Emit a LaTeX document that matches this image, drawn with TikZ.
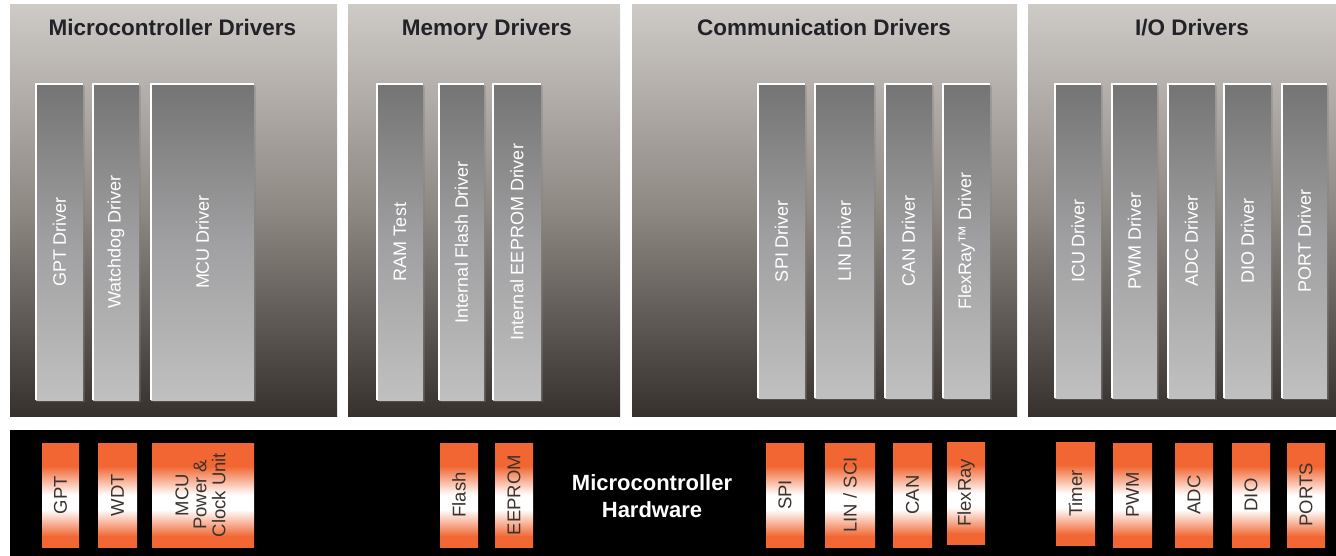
\documentclass[tikz,border=0pt]{standalone}
\usepackage{fontspec}
\setmainfont{Liberation Sans}
\usepackage{graphicx}
\usetikzlibrary{shadows}

\definecolor{orng}{RGB}{241,102,50}
\definecolor{pantop}{RGB}{206,202,198}
\definecolor{panmid}{RGB}{142,136,131}
\definecolor{panbot}{RGB}{54,49,45}
\definecolor{bartop}{RGB}{116,116,116}
\definecolor{barmid}{RGB}{160,160,162}
\definecolor{barbot}{RGB}{192,192,192}
\definecolor{titlecol}{RGB}{34,34,40}
\definecolor{hwtext}{RGB}{58,50,46}

% orange hardware block: orange at both ends, white band a little below the middle
\pgfdeclareverticalshading{orngbar}{100bp}{color(0bp)=(orng); color(25bp)=(orng);
  color(30bp)=(orng); color(43bp)=(white); color(50bp)=(white);
  color(64bp)=(orng); color(75bp)=(orng); color(100bp)=(orng)}

% a block given by its left/right/top/bottom edges, with upright-rotated text
\newcommand\rackbox[7]{%
  \node[#1, minimum width={(#4-#3)*1pt}, minimum height={(#6-#5)*1pt}]
    (#2) at ({(#3+#4)/2},{(#5+#6)/2}) {\rotatebox{90}{#7}};}

\tikzset{
  panel/.style={inner sep=0pt, outer sep=0pt, draw=none,
    top color=pantop, bottom color=panbot, middle color=panmid},
  paneltitle/.style={inner sep=0pt, anchor=base, text=titlecol,
    font=\fontsize{22.5}{26}\selectfont\bfseries},
  drvbar/.style={inner sep=0pt, outer sep=0pt, draw=none,
    top color=bartop, bottom color=barbot, middle color=barmid,
    drop shadow={shadow xshift=2pt, shadow yshift=-2pt, opacity=.35},
    text=white, font=\fontsize{18}{20}\selectfont},
  barhl/.style={white, line width=1.4pt, line cap=butt},
  hwbox/.style={inner sep=0pt, outer sep=0pt, draw=none, shading=orngbar,
    text=hwtext, font=\fontsize{18.5}{18}\selectfont},
  hwtitle/.style={inner sep=0pt, text=white, align=center,
    font=\fontsize{22}{27}\selectfont\bfseries},
}

\begin{document}
\begin{tikzpicture}[x=1pt, y=-1pt]
  \useasboundingbox (0,0) rectangle (1336,556);
  \fill[white] (0,0) rectangle (1336,556);

  % ---- driver panels ----
  \rackbox{panel}{mcdrv}{10}{337}{5}{416}{}
  \rackbox{panel}{memdrv}{348}{620}{5}{416}{}
  \rackbox{panel}{comdrv}{632}{1017}{5}{416}{}
  \rackbox{panel}{iodrv}{1028}{1336}{5}{416}{}

  \node[paneltitle] (t1) at (172.5,36) {Microcontroller Drivers};
  \node[paneltitle] (t2) at (487,36) {Memory Drivers};
  \node[paneltitle] (t3) at (824,36) {Communication Drivers};
  \node[paneltitle] (t4) at (1192,36) {I/O Drivers};

  % microcontroller drivers
  \rackbox{drvbar}{gptdrv}{36}{83}{84}{400}{GPT Driver}
  \rackbox{drvbar}{wdgdrv}{93}{139}{84}{400}{Watchdog Driver}
  \rackbox{drvbar}{mcudrv}{151}{254}{84}{400}{MCU Driver}
  % memory drivers
  \rackbox{drvbar}{ramtst}{377}{423}{84}{400}{RAM Test}
  \rackbox{drvbar}{flsdrv}{439}{484}{84}{400}{Internal Flash Driver}
  \rackbox{drvbar}{eepdrv}{493}{541}{84}{400}{Internal EEPROM Driver}
  % communication drivers
  \rackbox{drvbar}{spidrv}{758}{805}{84}{398}{SPI Driver}
  \rackbox{drvbar}{lindrv}{815}{874}{84}{398}{LIN Driver}
  \rackbox{drvbar}{candrv}{885}{932}{84}{398}{CAN Driver}
  \rackbox{drvbar}{frdrv}{943}{990}{84}{398}{FlexRay™ Driver}
  % I/O drivers
  \rackbox{drvbar}{icudrv}{1055}{1101}{84}{398}{ICU Driver}
  \rackbox{drvbar}{pwmdrv}{1112}{1157}{84}{398}{PWM Driver}
  \rackbox{drvbar}{adcdrv}{1168}{1215}{84}{398}{ADC Driver}
  \rackbox{drvbar}{diodrv}{1224}{1271}{84}{398}{DIO Driver}
  \rackbox{drvbar}{prtdrv}{1282}{1327}{84}{398}{PORT Driver}

  % bright top and left edges of the driver bars
  \foreach \n in {gptdrv,wdgdrv,mcudrv,ramtst,flsdrv,eepdrv,spidrv,lindrv,
                  candrv,frdrv,icudrv,pwmdrv,adcdrv,diodrv,prtdrv}
    \draw[barhl] (\n.south west) -- (\n.north west) -- (\n.north east);

  % ---- microcontroller hardware ----
  \node[fill=black, inner sep=0pt, outer sep=0pt, minimum width=1326pt,
        minimum height=126pt] (hwbar) at (673,493) {};
  \node[hwtitle] (hw) at (652,496) {Microcontroller\\Hardware};

  \rackbox{hwbox}{gpt}{42}{79}{443}{547}{GPT}
  \rackbox{hwbox}{wdt}{98}{137}{443}{547}{WDT}
  \rackbox{hwbox}{mcu}{152}{254}{443}{547}{\begin{tabular}{@{}c@{}}MCU\\Power \&\\Clock Unit\end{tabular}}
  \rackbox{hwbox}{flash}{440}{478}{443}{547}{Flash}
  \rackbox{hwbox}{eeprom}{495}{533}{443}{547}{EEPROM}
  \rackbox{hwbox}{spi}{766}{804}{443}{547}{SPI}
  \rackbox{hwbox}{lin}{825}{875}{443}{547}{LIN / SCI}
  \rackbox{hwbox}{can}{893}{932}{443}{547}{CAN}
  \rackbox{hwbox}{flexray}{947}{985}{442}{544}{FlexRay}
  \rackbox{hwbox}{timer}{1056}{1095}{442}{545}{Timer}
  \rackbox{hwbox}{pwm}{1113}{1152}{443}{547}{PWM}
  \rackbox{hwbox}{adc}{1175}{1213}{443}{547}{ADC}
  \rackbox{hwbox}{dio}{1232}{1270}{443}{547}{DIO}
  \rackbox{hwbox}{ports}{1287}{1325}{443}{547}{PORTS}
\end{tikzpicture}
\end{document}
